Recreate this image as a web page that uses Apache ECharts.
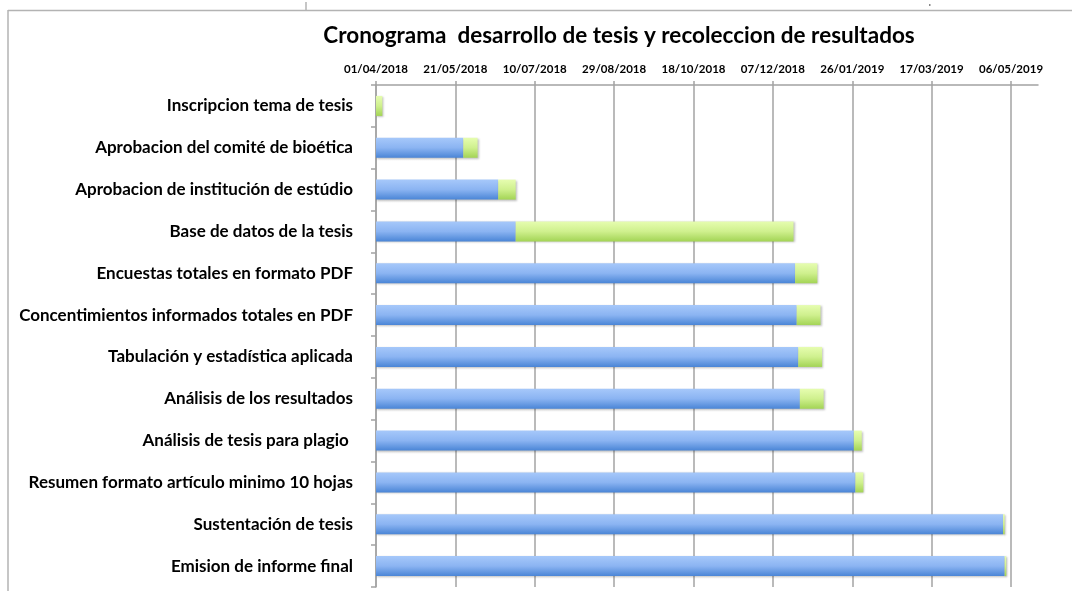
<!DOCTYPE html>
<html><head><meta charset="utf-8">
<script src="https://cdn.jsdelivr.net/npm/echarts@6/dist/echarts.min.js"></script>
<style>html,body{margin:0;padding:0;background:#fff}#c{width:1072px;height:591px}</style>
</head><body><div id="c"></div>
<script>
const titleText = 'Cronograma  desarrollo de tesis y recoleccion de resultados';
const tasks = [
  'Inscripcion tema de tesis',
  'Aprobacion del comité de bioética',
  'Aprobacion de institución de estúdio',
  'Base de datos de la tesis',
  'Encuestas totales en formato PDF',
  'Concentimientos informados totales en PDF',
  'Tabulación y estadística aplicada',
  'Análisis de los resultados',
  'Análisis de tesis para plagio ',
  'Resumen formato artículo minimo 10 hojas',
  'Sustentación de tesis',
  'Emision de informe final'
];
const startDates = [
  '2018-04-01', '2018-05-26', '2018-06-17', '2018-06-28',
  '2018-12-21', '2018-12-22', '2018-12-23', '2018-12-24',
  '2019-01-27', '2019-01-28', '2019-05-01', '2019-05-02'
];
const durations = [4, 9, 11, 175, 14, 15, 15, 15, 5, 5, 1, 1];
const tickLabels = ['01/04/2018','21/05/2018','10/07/2018','29/08/2018','18/10/2018','07/12/2018','26/01/2019','17/03/2019','06/05/2019'];
const axisStartDate = '2018-04-01';
const axisEndDays = 417;
const tickStepDays = 50;

function toDay(s){ const p = s.split('-').map(Number); return Date.UTC(p[0], p[1]-1, p[2]) / 86400000; }
const base = toDay(axisStartDate);
const offsets = startDates.map(s => toDay(s) - base);

const chart = echarts.init(document.getElementById('c'), null, {renderer:'canvas'});
const gridColor = '#a3a3a3';
const blueGrad = new echarts.graphic.LinearGradient(0,0,0,1,[
  {offset:0, color:'#a6c8fa'},{offset:0.5, color:'#8bb4f2'},{offset:1, color:'#4a85d6'}]);
const greenGrad = new echarts.graphic.LinearGradient(0,0,0,1,[
  {offset:0, color:'#e6fdb0'},{offset:0.5, color:'#cff08e'},{offset:1, color:'#a3d455'}]);
const shadow = {shadowBlur:2, shadowColor:'rgba(0,0,0,0.25)', shadowOffsetX:1, shadowOffsetY:1};

chart.setOption({
  animation:false,
  backgroundColor:'#fff',
  grid:{left:376, right:34, top:85, bottom:4, containLabel:false},
  graphic:[
    {type:'line', shape:{x1:8, y1:10.5, x2:1072, y2:10.5}, style:{stroke:'#b3b3b3', lineWidth:1.5}},
    {type:'line', shape:{x1:8, y1:10, x2:8, y2:591}, style:{stroke:'#b3b3b3', lineWidth:1.5}},
    {type:'line', shape:{x1:306, y1:2, x2:306, y2:10}, style:{stroke:'#b3b3b3', lineWidth:1.5}},
    {type:'rect', shape:{x:929, y:4, width:1.5, height:2}, style:{fill:'#888'}},
    {type:'text', x:619, y:36, style:{text:titleText, textAlign:'center', textVerticalAlign:'middle',
      font:'bold 22.5px Lato', fill:'#000'}}
  ],
  xAxis:{
    type:'value', position:'top', min:0, max:axisEndDays, interval:tickStepDays,
    axisLine:{show:true, lineStyle:{color:gridColor, width:1.5}},
    axisTick:{show:true, length:4, lineStyle:{color:gridColor, width:1.5}},
    splitLine:{show:true, showMaxLine:false, lineStyle:{color:gridColor, width:1.5}},
    axisLabel:{showMaxLabel:false, margin:10, color:'#000', fontFamily:'Lato', fontWeight:'bold', fontSize:11.5,
      formatter:v => { const i = Math.round(v / tickStepDays); return (v % tickStepDays === 0 && tickLabels[i]) ? tickLabels[i] : ''; }}
  },
  yAxis:{
    type:'category', data:tasks, inverse:true,
    axisLine:{show:true, lineStyle:{color:gridColor, width:1.5}},
    axisTick:{show:true, length:5, lineStyle:{color:gridColor, width:1.5}},
    axisLabel:{margin:23, color:'#000', fontFamily:'Lato', fontWeight:'bold', fontSize:17}
  },
  series:[
    {type:'bar', stack:'g', data:offsets, barWidth:20, itemStyle:Object.assign({color:blueGrad}, shadow)},
    {type:'bar', stack:'g', data:durations, barWidth:20, itemStyle:Object.assign({color:greenGrad}, shadow)}
  ]
});
</script></body></html>
